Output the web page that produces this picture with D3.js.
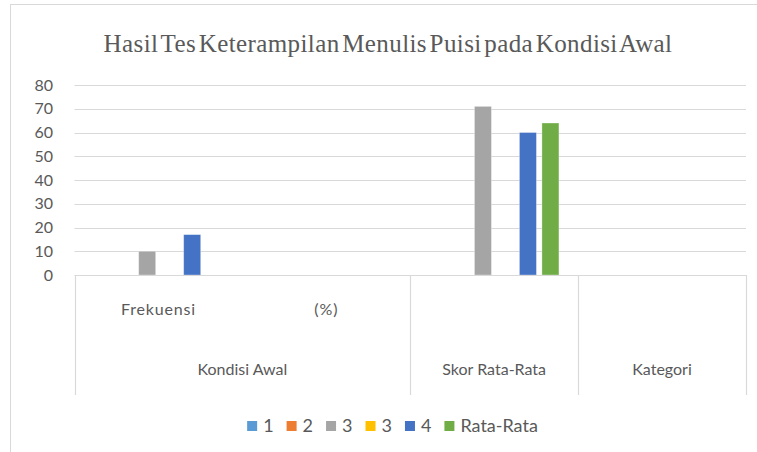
<!DOCTYPE html>
<html>
<head>
<meta charset="utf-8">
<script src="https://cdn.jsdelivr.net/npm/d3@7"></script>
<style>
  body { margin: 0; background: #fff; }
  svg text { font-family: Lato, "Open Sans", sans-serif; fill: #595959; }
</style>
</head>
<body>
<div id="chart"></div>
<script>
// chart data
var chartTitle = "Hasil Tes Keterampilan Menulis Puisi pada Kondisi Awal";
var groups = ["Kondisi Awal", "Skor Rata-Rata", "Kategori"];
var subCategories = [
    { group: "Kondisi Awal", label: "Frekuensi" },
    { group: "Kondisi Awal", label: "(%)" },
    { group: "Skor Rata-Rata", label: "" },
    { group: "Kategori", label: "" }
];
var seriesNames = ["1", "2", "3", "3", "4", "Rata-Rata"];
var seriesColors = ["#5B9BD5", "#ED7D31", "#A5A5A5", "#FFC000", "#4472C4", "#70AD47"];
// values[category][series]
var values = [
    [0, 0, 10, 0, 17, 0],
    [0, 0, 0, 0, 0, 0],
    [0, 0, 71, 0, 60, 64],
    [0, 0, 0, 0, 0, 0]
];
var yTicks = [0, 10, 20, 30, 40, 50, 60, 70, 80];

var width = 757, height = 452;
var plot = { left: 74.5, right: 746, top: 85, bottom: 275 };
var axisBottom = 395;

var svg = d3.select("#chart").append("svg")
    .attr("width", width)
    .attr("height", height);

// outer chart border
svg.append("rect")
    .attr("x", 10.5).attr("y", 4.5)
    .attr("width", 760).attr("height", 460)
    .attr("fill", "#fff")
    .attr("stroke", "#d9d9d9");

// title
svg.append("text")
    .attr("x", 388).attr("y", 52)
    .attr("text-anchor", "middle")
    .style("font-family", "'Liberation Serif', 'DejaVu Serif', serif")
    .style("font-size", "25px")
    .style("letter-spacing", "0.4px")
    .style("word-spacing", "-4px")
    .text(chartTitle);

// scales
var y = d3.scaleLinear().domain([0, 80]).range([plot.bottom, plot.top]);
var x0 = d3.scaleBand()
    .domain(d3.range(subCategories.length))
    .range([plot.left, plot.right])
    .padding(0);
var x1 = d3.scaleBand()
    .domain(d3.range(seriesNames.length))
    .range([0, x0.bandwidth()])
    .paddingInner(0.244)
    .paddingOuter(0.853);

// gridlines
svg.append("g").selectAll("line")
    .data(yTicks.filter(function (t) { return t > 0; }))
    .enter().append("line")
    .attr("x1", plot.left).attr("x2", plot.right)
    .attr("y1", function (d) { return Math.round(y(d)) + 0.5; })
    .attr("y2", function (d) { return Math.round(y(d)) + 0.5; })
    .attr("stroke", "#d9d9d9")
    .attr("stroke-width", 1.2);

// y axis labels
var yAxis = d3.axisLeft(y).tickValues(yTicks).tickSize(0).tickPadding(0);
var gy = svg.append("g")
    .attr("transform", "translate(53,0)")
    .call(yAxis);
gy.select(".domain").remove();
gy.selectAll("text")
    .style("font-family", "Lato, sans-serif")
    .style("font-size", "16px")
    .attr("fill", "#595959");

// bars
var catG = svg.append("g").selectAll("g")
    .data(values)
    .enter().append("g")
    .attr("transform", function (d, i) { return "translate(" + x0(i) + ",0)"; });
catG.selectAll("rect")
    .data(function (d) { return d.map(function (v, s) { return { v: v, s: s }; }); })
    .enter().append("rect")
    .filter(function (d) { return d.v > 0; })
    .attr("x", function (d) { return x1(d.s); })
    .attr("width", x1.bandwidth())
    .attr("y", function (d) { return y(d.v); })
    .attr("height", function (d) { return y(0) - y(d.v); })
    .attr("fill", function (d) { return seriesColors[d.s]; })
    .attr("stroke", "#fff")
    .attr("stroke-opacity", 0.4)
    .attr("stroke-width", 0.8);

// multi-level category axis frame
var frame = svg.append("g").attr("stroke", "#d9d9d9").attr("stroke-width", 1.2);
frame.append("line")
    .attr("x1", plot.left).attr("x2", plot.right)
    .attr("y1", plot.bottom + 0.5).attr("y2", plot.bottom + 0.5);
var groupBounds = groups.map(function (g) {
    var idx = subCategories.map(function (c, i) { return c.group === g ? i : -1; })
        .filter(function (i) { return i >= 0; });
    return { name: g, x0: x0(idx[0]), x1: x0(idx[idx.length - 1]) + x0.bandwidth() };
});
var dividers = [plot.left].concat(groupBounds.map(function (b) { return b.x1; }));
frame.selectAll("line.div")
    .data(dividers)
    .enter().append("line")
    .attr("class", "div")
    .attr("x1", function (d) { return Math.round(d) + 0.5; })
    .attr("x2", function (d) { return Math.round(d) + 0.5; })
    .attr("y1", plot.bottom).attr("y2", axisBottom);

// sub-category labels
svg.append("g").selectAll("text")
    .data(subCategories)
    .enter().append("text")
    .attr("x", function (d, i) { return x0(i) + x0.bandwidth() / 2; })
    .attr("y", 315)
    .attr("text-anchor", "middle")
    .style("font-size", "16px")
    .style("letter-spacing", function (d, i) { return i === 0 ? "0.8px" : "1px"; })
    .text(function (d) { return d.label; });

// group labels
svg.append("g").selectAll("text")
    .data(groupBounds)
    .enter().append("text")
    .attr("x", function (d) { return (d.x0 + d.x1) / 2; })
    .attr("y", 375)
    .attr("text-anchor", "middle")
    .style("font-size", "16px")
    .text(function (d) { return d.name; });

// legend: laid out from measured text widths, centred
var legend = svg.append("g");
var items = legend.selectAll("g")
    .data(seriesNames)
    .enter().append("g");
items.append("rect")
    .attr("y", 421)
    .attr("width", 10).attr("height", 10)
    .attr("fill", function (d, i) { return seriesColors[i]; });
items.append("text")
    .attr("x", 16).attr("y", 432)
    .style("font-size", "18px")
    .text(function (d) { return d; });
var cursor = 0;
items.each(function () {
    var w = this.querySelector("text").getComputedTextLength();
    d3.select(this).attr("transform", "translate(" + cursor + ",0)");
    cursor += 16 + w + 13;
});
var legendWidth = cursor - 13;
legend.attr("transform", "translate(" + (392.5 - legendWidth / 2) + ",0)");
</script>
</body>
</html>
